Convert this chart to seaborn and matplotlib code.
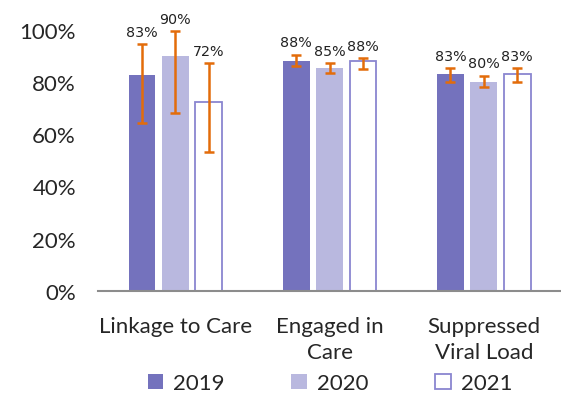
import numpy as np
import pandas as pd
import matplotlib.pyplot as plt
import seaborn as sns
from matplotlib.patches import Patch

# data
categories = ["Linkage to Care", "Engaged in\nCare", "Suppressed\nViral Load"]
years = ["2019", "2020", "2021"]
values = {
    "2019": [0.826, 0.879, 0.829],
    "2020": [0.898, 0.852, 0.799],
    "2021": [0.724, 0.879, 0.829],
}
err_low = {
    "2019": [0.642, 0.863, 0.802],
    "2020": [0.680, 0.834, 0.780],
    "2021": [0.531, 0.851, 0.802],
}
err_high = {
    "2019": [0.945, 0.905, 0.854],
    "2020": [0.994, 0.874, 0.825],
    "2021": [0.874, 0.892, 0.853],
}
labels = {
    "2019": ["83%", "88%", "83%"],
    "2020": ["90%", "85%", "80%"],
    "2021": ["72%", "88%", "83%"],
}

df = pd.DataFrame([
    {"category": c, "year": y, "value": values[y][i]}
    for y in years for i, c in enumerate(categories)
])

sns.set_theme(style="white")
plt.rcParams["font.family"] = ["Lato", "DejaVu Sans"]

dark = "#7472bd"
light = "#b9b8df"
edge21 = "#8a86d0"
orange = "#e36c0a"
palette = {"2019": dark, "2020": light, "2021": "white"}

fig = plt.figure(figsize=(5.61, 4.06), dpi=100)
ax = fig.add_axes([0.175, 0.281, 0.825, 0.643])

sns.barplot(data=df, x="category", y="value", hue="year", palette=palette,
            width=0.65, gap=0.2, saturation=1, legend=False, ax=ax)

for y, cont in zip(years, ax.containers):
    for i, p in enumerate(cont.patches):
        if y == "2021":
            p.set_edgecolor(edge21)
            p.set_linewidth(1.3)
        else:
            p.set_edgecolor("none")
        xc = p.get_x() + p.get_width() / 2
        v = values[y][i]
        ax.errorbar(xc, v, yerr=[[v - err_low[y][i]], [err_high[y][i] - v]],
                    fmt="none", ecolor=orange, elinewidth=1.8, capsize=3.5,
                    capthick=1.8, clip_on=False, zorder=5)
        ax.text(xc, err_high[y][i] + 0.02, labels[y][i], ha="center", va="bottom",
                fontsize=10.3, family="DejaVu Sans", color="#222222", clip_on=False)

ax.set_ylim(0, 1.0)
ax.set_xlim(-0.5, 2.5)
ax.set_yticks(np.arange(0, 1.01, 0.2))
ax.set_yticklabels([f"{int(t * 100)}%" for t in np.arange(0, 1.01, 0.2)])
ax.tick_params(axis="y", labelsize=16, length=0, pad=16)
ax.tick_params(axis="x", labelsize=16, length=0, pad=18)
for lbl in ax.get_xticklabels():
    lbl.set_linespacing(1.35)
ax.set_xlabel("")
ax.set_ylabel("")
for s in ["left", "right", "top"]:
    ax.spines[s].set_visible(False)
ax.spines["bottom"].set_color("#8c8c8c")
ax.spines["bottom"].set_linewidth(1.5)

handles = [Patch(facecolor=dark, edgecolor="none"),
           Patch(facecolor=light, edgecolor="none"),
           Patch(facecolor="white", edgecolor=edge21, linewidth=1.3)]
fig.legend(handles, years, loc="center", bbox_to_anchor=(0.588, 0.053), ncol=3,
           frameon=False, fontsize=16, handlelength=0.7, handleheight=0.7,
           handletextpad=0.45, columnspacing=3.0)

fig.savefig("out.png", dpi=100)
